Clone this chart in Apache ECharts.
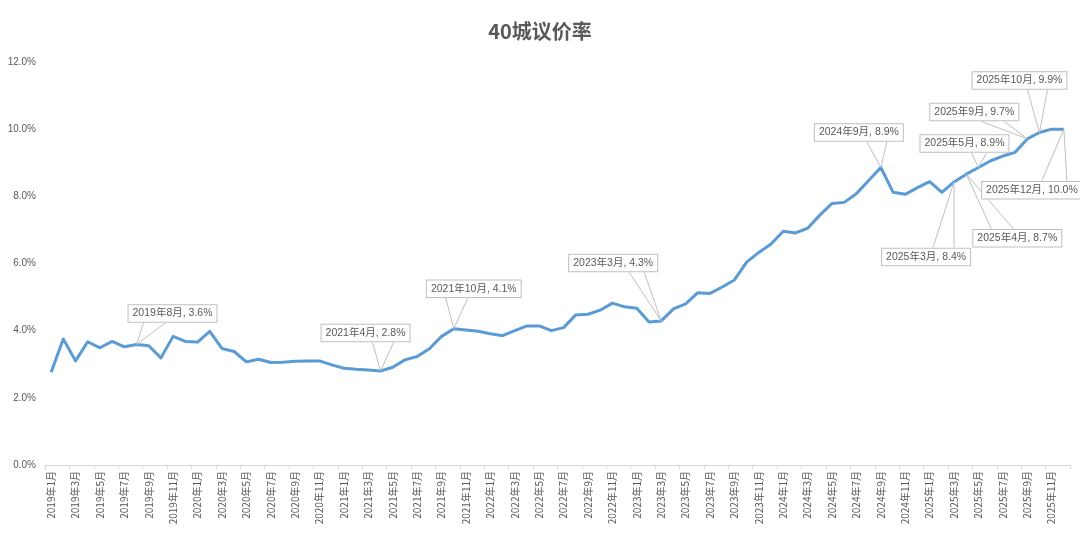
<!DOCTYPE html>
<html>
<head>
<meta charset="utf-8">
<script src="https://cdn.jsdelivr.net/npm/echarts@6/dist/echarts.min.js"></script>
<style>
html,body{margin:0;padding:0;background:#fff;}
#chart{width:1080px;height:536px;}
</style>
</head>
<body>
<div id="chart"></div>
<script>
// ---- data ----
const years = [2019, 2020, 2021, 2022, 2023, 2024, 2025];
const categories = [];
years.forEach(y => { for (let m = 1; m <= 12; m++) categories.push(y + '年' + m + '月'); });

const rate2019 = [2.76, 3.75, 3.10, 3.67, 3.49, 3.68, 3.52, 3.59, 3.55, 3.19, 3.83, 3.68];
const rate2020 = [3.66, 3.98, 3.47, 3.38, 3.07, 3.15, 3.05, 3.06, 3.09, 3.10, 3.10, 2.98];
const rate2021 = [2.88, 2.85, 2.83, 2.80, 2.91, 3.13, 3.23, 3.46, 3.83, 4.06, 4.02, 3.98];
const rate2022 = [3.91, 3.85, 4.00, 4.14, 4.14, 4.00, 4.09, 4.47, 4.49, 4.61, 4.82, 4.71];
const rate2023 = [4.67, 4.26, 4.29, 4.65, 4.80, 5.13, 5.11, 5.30, 5.51, 6.04, 6.33, 6.58];
const rate2024 = [6.96, 6.91, 7.05, 7.44, 7.79, 7.82, 8.08, 8.47, 8.86, 8.12, 8.06, 8.26];
const rate2025 = [8.44, 8.12, 8.43, 8.66, 8.86, 9.06, 9.20, 9.31, 9.71, 9.90, 10.00, 10.00];
const rates = [].concat(rate2019, rate2020, rate2021, rate2022, rate2023, rate2024, rate2025);

const yTicks = [0, 2, 4, 6, 8, 10, 12];

const annotated = ['2019年8月', '2021年4月', '2021年10月', '2023年3月', '2024年9月',
                   '2025年3月', '2025年4月', '2025年5月', '2025年9月', '2025年10月', '2025年12月'];

// ---- callout layout (offsets in px relative to the data point) ----
const calloutLayout = {
  '2019年8月':  {dx: 36,   dy: -31,  edge: 'bottom', b1: -29, b2: -7},
  '2021年4月':  {dx: -15,  dy: -38,  edge: 'bottom', b1: 7,   b2: 28},
  '2021年10月': {dx: 20,   dy: -40,  edge: 'bottom', b1: -28, b2: -6},
  '2023年3月':  {dx: -48,  dy: -58,  edge: 'bottom', b1: 16,  b2: 31},
  '2024年9月':  {dx: -22,  dy: -35,  edge: 'bottom', b1: 8,   b2: 28},
  '2025年3月':  {dx: -28,  dy: 75,   edge: 'top',    b1: 7,   b2: 28},
  '2025年4月':  {dx: 51,   dy: 64,   edge: 'top',    b1: -26, b2: -4},
  '2025年5月':  {dx: -14,  dy: -24,  edge: 'bottom', b1: 7,   b2: 22},
  '2025年9月':  {dx: -53,  dy: -27,  edge: 'bottom', b1: 7,   b2: 30},
  '2025年10月': {dx: -20,  dy: -52,  edge: 'bottom', b1: 8,   b2: 28},
  '2025年12月': {dx: -32,  dy: 61,   edge: 'top',    b1: 10,  b2: 35}
};

const annoData = annotated.map(name => {
  const i = categories.indexOf(name);
  return [i, rates[i]];
});

const FONT = '"Liberation Sans", "Noto Sans CJK SC", sans-serif';
const GREY = '#595959';
const BOX_HALF_H = 9.5;

const chart = echarts.init(document.getElementById('chart'), null, {renderer: 'canvas'});
chart.setOption({
  animation: false,
  backgroundColor: '#ffffff',
  title: {
    text: '40城议价率',
    left: 'center',
    top: 16,
    textStyle: {fontSize: 20, fontWeight: 'bold', color: GREY, fontFamily: '"Noto Sans CJK SC", sans-serif'}
  },
  grid: {left: 45, right: 10, top: 62, bottom: 71, containLabel: false},
  xAxis: {
    type: 'category',
    data: categories,
    boundaryGap: true,
    axisLine: {lineStyle: {color: '#d9d9d9', width: 1}},
    axisTick: {show: true, interval: 1, length: 4, lineStyle: {color: '#d9d9d9'}},
    axisLabel: {
      interval: 1,
      rotate: 90,
      fontSize: 10,
      color: GREY,
      margin: 6,
      fontFamily: '"Noto Sans CJK SC", sans-serif'
    },
    splitLine: {show: false}
  },
  yAxis: {
    type: 'value',
    min: yTicks[0],
    max: yTicks[yTicks.length - 1],
    interval: 2,
    axisLine: {show: false},
    axisTick: {show: false},
    splitLine: {show: false},
    axisLabel: {
      formatter: v => v.toFixed(1) + '%',
      fontSize: 10,
      color: GREY,
      margin: 9,
      fontFamily: FONT
    }
  },
  series: [
    {
      type: 'line',
      data: rates,
      showSymbol: false,
      symbol: 'none',
      smooth: false,
      lineStyle: {color: '#5B9BD5', width: 3, join: 'round'},
      z: 2
    },
    {
      type: 'custom',
      data: annoData,
      encode: {x: 0, y: 1},
      clip: false,
      z: 5,
      renderItem: function (params, api) {
        const name = annotated[params.dataIndex];
        const lay = calloutLayout[name];
        const pt = api.coord([api.value(0), api.value(1)]);
        const cx = pt[0] + lay.dx;
        const cy = pt[1] + lay.dy;
        const ey = lay.edge === 'bottom' ? cy + BOX_HALF_H : cy - BOX_HALF_H;
        const label = name + ', ' + api.value(1).toFixed(1) + '%';
        return {
          type: 'group',
          children: [
            {
              type: 'polyline',
              shape: {points: [[cx + lay.b1, ey], [pt[0], pt[1]], [cx + lay.b2, ey]]},
              style: {stroke: '#bfbfbf', lineWidth: 1, fill: null}
            },
            {
              type: 'text',
              x: cx,
              y: cy,
              style: {
                text: label,
                fill: GREY,
                font: '10.5px ' + FONT,
                align: 'center',
                verticalAlign: 'middle',
                backgroundColor: '#ffffff',
                borderColor: '#bfbfbf',
                borderWidth: 1,
                padding: [3, 4, 3, 4]
              }
            }
          ]
        };
      }
    }
  ]
});
</script>
</body>
</html>
